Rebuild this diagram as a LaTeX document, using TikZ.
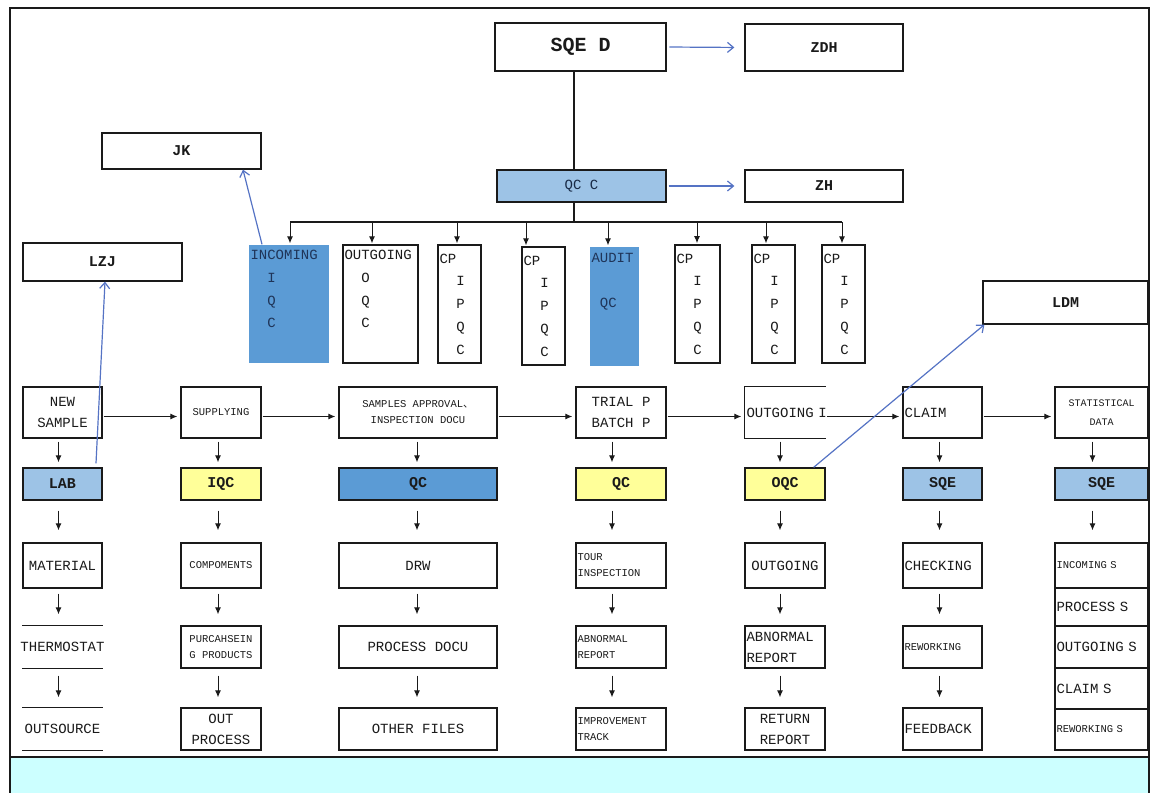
\documentclass[tikz,border=0pt]{standalone}
\usepackage{fontspec}
\setmainfont{Liberation Mono}
\newfontfamily\cjk{Noto Sans CJK SC}
\usetikzlibrary{arrows.meta,calc}
\definecolor{lblue}{HTML}{9DC3E6}
\definecolor{mblue}{HTML}{5B9BD5}
\definecolor{ylw}{HTML}{FFFF99}
\definecolor{cyanbg}{HTML}{CCFFFF}
\definecolor{arrblue}{HTML}{5573C4}
\definecolor{ink}{HTML}{1A1A1A}
\definecolor{navy}{HTML}{1F3458}
\newcommand\fmid{\fontsize{14}{21}\selectfont}
\newcommand\fsml{\fontsize{10.5}{16}\selectfont}
\newcommand\fbld{\bfseries\fontsize{15}{18}\selectfont}
\newcommand\fvert{\fontsize{14}{22.7}\selectfont}
\tikzset{
  bx/.style={draw=ink, line width=1.3pt, inner sep=1.5pt, text=ink, align=center, font=\fmid},
  sm/.style={font=\fsml},
  bb/.style={font=\fbld},
  lft/.style={align=left, text width=#1pt},
  vb/.style={bx, font=\fvert, align=left, minimum height=118pt},
  arr/.style={draw=ink, line width=1pt, -{Latex[length=7pt,width=6pt]}},
  barr/.style={draw=arrblue, line width=1.2pt, -{Straight Barb[length=6pt,width=10pt]}},
}
\begin{document}
\begin{tikzpicture}[x=1pt,y=-1pt]
\useasboundingbox (0,0) rectangle (1152,793);
% frame and bottom band
\fill[cyanbg] (10,757) rectangle (1149,793);
\draw[ink, line width=1.4pt] (10,793) -- (10,8) -- (1149,8) -- (1149,793);
\draw[ink, line width=1.4pt] (10,757) -- (1149,757);

% top
\node[bx, line width=2.8pt, minimum width=171pt, minimum height=48pt, font=\bfseries\fontsize{20}{24}\selectfont] (sqed) at (580.5,47) {SQE D};
\node[bx, bb, minimum width=158pt, minimum height=47pt] (zdh) at (824,47.5) {ZDH};
\node[bx, fill=lblue, text=navy!80!black, minimum width=169pt, minimum height=32pt] (qcc) at (581.5,186) {QC C};
\node[bx, bb, minimum width=158pt, minimum height=32pt] (zh) at (824,186) {ZH};
\node[bx, bb, minimum width=159pt, minimum height=36pt] (jk) at (181.5,151) {JK};
\node[bx, bb, minimum width=159pt, minimum height=38pt] (lzj) at (102.5,262) {LZJ};
\node[bx, bb, minimum width=165pt, minimum height=43pt] (ldm) at (1065.5,302.5) {LDM};

\draw[barr, shorten <=2pt, shorten >=10pt] (sqed.east) -- (zdh.west);
\draw[barr, shorten <=2pt, shorten >=10pt] (qcc.east) -- (zh.west);
\draw[ink, line width=1.2pt] ([xshift=-6.5pt]sqed.south) -- ([xshift=-7.5pt]qcc.north);

% vertical boxes
\node[vb, draw=none, fill=mblue, text=navy, lft=77, minimum width=80pt] (inc) at (289,304)
  {INCOMING\\\hphantom{XX}I\\\hphantom{XX}Q\\\hphantom{XX}C\\\strut};
\node[vb, lft=72, minimum width=75pt] (outg) at (380.5,304)
  {OUTGOING\\\hphantom{XX}O\\\hphantom{XX}Q\\\hphantom{XX}C\\\strut};
\node[vb, lft=40, minimum width=43pt] (cp1) at (459.5,304) {CP\\\hphantom{CP}I\\\hphantom{CP}P\\\hphantom{CP}Q\\\hphantom{CP}C};
\node[vb, lft=40, minimum width=43pt] (cp2) at (543.5,306) {CP\\\hphantom{CP}I\\\hphantom{CP}P\\\hphantom{CP}Q\\\hphantom{CP}C};
\node[vb, draw=none, fill=mblue, text=navy, lft=46, minimum width=49pt, minimum height=119pt] (aud) at (614.5,306.5)
  {AUDIT\\\strut\\\hphantom{X}QC\\\strut\\\strut};
\node[vb, line width=1.7pt, lft=42, minimum width=45pt] (cp3) at (697.5,304) {CP\\\hphantom{CP}I\\\hphantom{CP}P\\\hphantom{CP}Q\\\hphantom{CP}C};
\node[vb, lft=40, minimum width=43pt] (cp4) at (773.5,304) {CP\\\hphantom{CP}I\\\hphantom{CP}P\\\hphantom{CP}Q\\\hphantom{CP}C};
\node[vb, lft=40, minimum width=43pt] (cp5) at (843.5,304) {CP\\\hphantom{CP}I\\\hphantom{CP}P\\\hphantom{CP}Q\\\hphantom{CP}C};

% bus
\coordinate (bus) at ([xshift=-7.5pt]qcc.south |- 0,222);
\coordinate (k1) at (290,222);
\coordinate (k2) at (372,222);
\coordinate (k3) at (457,222);
\coordinate (k4) at (526,222);
\coordinate (k5) at (608,222);
\coordinate (k6) at (697,222);
\coordinate (k7) at (766,222);
\coordinate (k8) at (842,222);
\draw[ink, line width=1.2pt] ([xshift=-7.5pt]qcc.south) -- (bus);
\draw[ink, line width=1.2pt] (k1) -- (k8);
\foreach \k/\b in {k1/inc,k2/outg,k3/cp1,k4/cp2,k5/aud,k6/cp3,k7/cp4,k8/cp5}
  \draw[arr, shorten >=1pt] (\k) -- (\k |- \b.north);

% row 1
\node[bx, minimum width=79pt, minimum height=51pt] (a1) at (62.5,412.5) {NEW\\SAMPLE};
\node[bx, sm, minimum width=80pt, minimum height=51pt] (a2) at (221,412.5) {SUPPLYING};
\node[bx, sm, minimum width=158pt, minimum height=51pt] (a3) at (418,412.5) {SAMPLES APPROVAL{\cjk 、}\\INSPECTION DOCU};
\node[bx, minimum width=90pt, minimum height=51pt] (a4) at (621,412.5) {TRIAL P\\BATCH P};
\node[bx, draw=none, lft=77, minimum width=80pt, minimum height=51pt] (a5) at (785,412.5) {\makebox[77pt][l]{OUTGOING I}};
\draw[ink, line width=1.3pt] (a5.north east) -- (a5.north west) -- (a5.south west) -- (a5.south east);
\node[bx, lft=76, minimum width=79pt, minimum height=51pt] (a6) at (942.5,412.5) {CLAIM};
\node[bx, sm, minimum width=93pt, minimum height=51pt, font=\fontsize{10}{19}\selectfont] (a7) at (1101.5,412.5) {STATISTICAL\\DATA};

% row 2
\node[bx, bb, fill=lblue, minimum width=79pt, minimum height=32pt] (b1) at (62.5,484) {LAB};
\node[bx, bb, fill=ylw, minimum width=80pt, minimum height=32pt] (b2) at (221,484) {IQC};
\node[bx, bb, fill=mblue, minimum width=158pt, minimum height=32pt] (b3) at (418,484) {QC};
\node[bx, bb, fill=ylw, minimum width=90pt, minimum height=32pt] (b4) at (621,484) {QC};
\node[bx, bb, fill=ylw, minimum width=80pt, minimum height=32pt] (b5) at (785,484) {OQC};
\node[bx, bb, fill=lblue, minimum width=79pt, minimum height=32pt] (b6) at (942.5,484) {SQE};
\node[bx, bb, fill=lblue, minimum width=93pt, minimum height=32pt] (b7) at (1101.5,484) {SQE};

% row 3
\node[bx, minimum width=79pt, minimum height=45pt] (c1) at (62.5,565.5) {MATERIAL};
\node[bx, sm, minimum width=80pt, minimum height=45pt] (c2) at (221,565.5) {COMPOMENTS};
\node[bx, minimum width=158pt, minimum height=45pt] (c3) at (418,565.5) {DRW};
\node[bx, sm, lft=87, minimum width=90pt, minimum height=45pt] (c4) at (621,565.5) {TOUR\\INSPECTION};
\node[bx, minimum width=80pt, minimum height=45pt] (c5) at (785,565.5) {OUTGOING};
\node[bx, lft=76, minimum width=79pt, minimum height=45pt] (c6) at (942.5,565.5) {CHECKING};
\node[bx, sm, lft=90, minimum width=93pt, minimum height=45pt] (c7) at (1101.5,565.5) {INCOMING S};

% row 4
\node[bx, draw=none, minimum width=79pt, minimum height=42pt] (d1) at (62.5,647) {\makebox[70pt]{THERMOSTAT}};
\draw[ink, line width=1.3pt] (d1.north west) -- (d1.north east) (d1.south west) -- (d1.south east);
\node[bx, sm, minimum width=80pt, minimum height=42pt] (d2) at (221,647) {PURCAHSEIN\\G PRODUCTS};
\node[bx, minimum width=158pt, minimum height=42pt] (d3) at (418,647) {PROCESS DOCU};
\node[bx, sm, lft=87, minimum width=90pt, minimum height=42pt] (d4) at (621,647) {ABNORMAL\\REPORT};
\node[bx, lft=77, minimum width=80pt, minimum height=42pt] (d5) at (785,647) {ABNORMAL\\REPORT};
\node[bx, sm, lft=76, minimum width=79pt, minimum height=42pt] (d6) at (942.5,647) {REWORKING};

% col 7 stack
\node[bx, lft=90, minimum width=93pt, minimum height=38pt] (s2) at (1101.5,607) {PROCESS S};
\node[bx, lft=90, minimum width=93pt, minimum height=42pt] (s3) at (1101.5,647) {OUTGOING S};
\node[bx, lft=90, minimum width=93pt, minimum height=41pt] (s4) at (1101.5,688.5) {CLAIM S};
\node[bx, sm, lft=90, minimum width=93pt, minimum height=41pt] (s5) at (1101.5,729.5) {REWORKING S};

% row 5
\node[bx, draw=none, minimum width=79pt, minimum height=42pt] (e1) at (62.5,729) {\makebox[70pt]{OUTSOURCE}};
\draw[ink, line width=1.3pt] (e1.north west) -- (e1.north east) (e1.south west) -- (e1.south east);
\node[bx, minimum width=80pt, minimum height=42pt] (e2) at (221,729) {OUT\\PROCESS};
\node[bx, minimum width=158pt, minimum height=42pt] (e3) at (418,729) {OTHER FILES};
\node[bx, sm, lft=87, minimum width=90pt, minimum height=42pt] (e4) at (621,729) {IMPROVEMENT\\TRACK};
\node[bx, minimum width=80pt, minimum height=42pt] (e5) at (785,729) {RETURN\\REPORT};
\node[bx, lft=76, minimum width=79pt, minimum height=42pt] (e6) at (942.5,729) {FEEDBACK};

% horizontal arrows
\foreach \p/\q in {a1/a2,a2/a3,a3/a4,a4/a5,a5/a6,a6/a7}
  \draw[arr, shorten <=1pt, shorten >=3pt] ([yshift=-4pt]\p.east) -- ([yshift=-4pt]\q.west);

% vertical arrows
\foreach \i/\d in {1/-4,2/-3,3/-1,4/-9,5/-5,6/-3,7/-9}{
  \draw[arr, shorten <=3pt, shorten >=5pt] ([xshift=\d pt]a\i.south) -- ([xshift=\d pt]b\i.north);
  \draw[arr, shorten <=10pt, shorten >=12pt] ([xshift=\d pt]b\i.south) -- ([xshift=\d pt]c\i.north);
}
\foreach \i/\d in {1/-4,2/-3,3/-1,4/-9,5/-5,6/-3}{
  \draw[arr, shorten <=5pt, shorten >=11pt] ([xshift=\d pt]c\i.south) -- ([xshift=\d pt]d\i.north);
  \draw[arr, shorten <=7pt, shorten >=10pt] ([xshift=\d pt]d\i.south) -- ([xshift=\d pt]e\i.north);
}

% blue links
\draw[barr] ([xshift=-27pt]inc.north) -- ([xshift=61.5pt]jk.south);
\draw[barr] ([xshift=33.5pt,yshift=4pt]b1.north) -- ([xshift=2.5pt]lzj.south);
\draw[barr] ([xshift=-12pt]b5.north east) -- ([xshift=2pt]ldm.south west);
\end{tikzpicture}
\end{document}
